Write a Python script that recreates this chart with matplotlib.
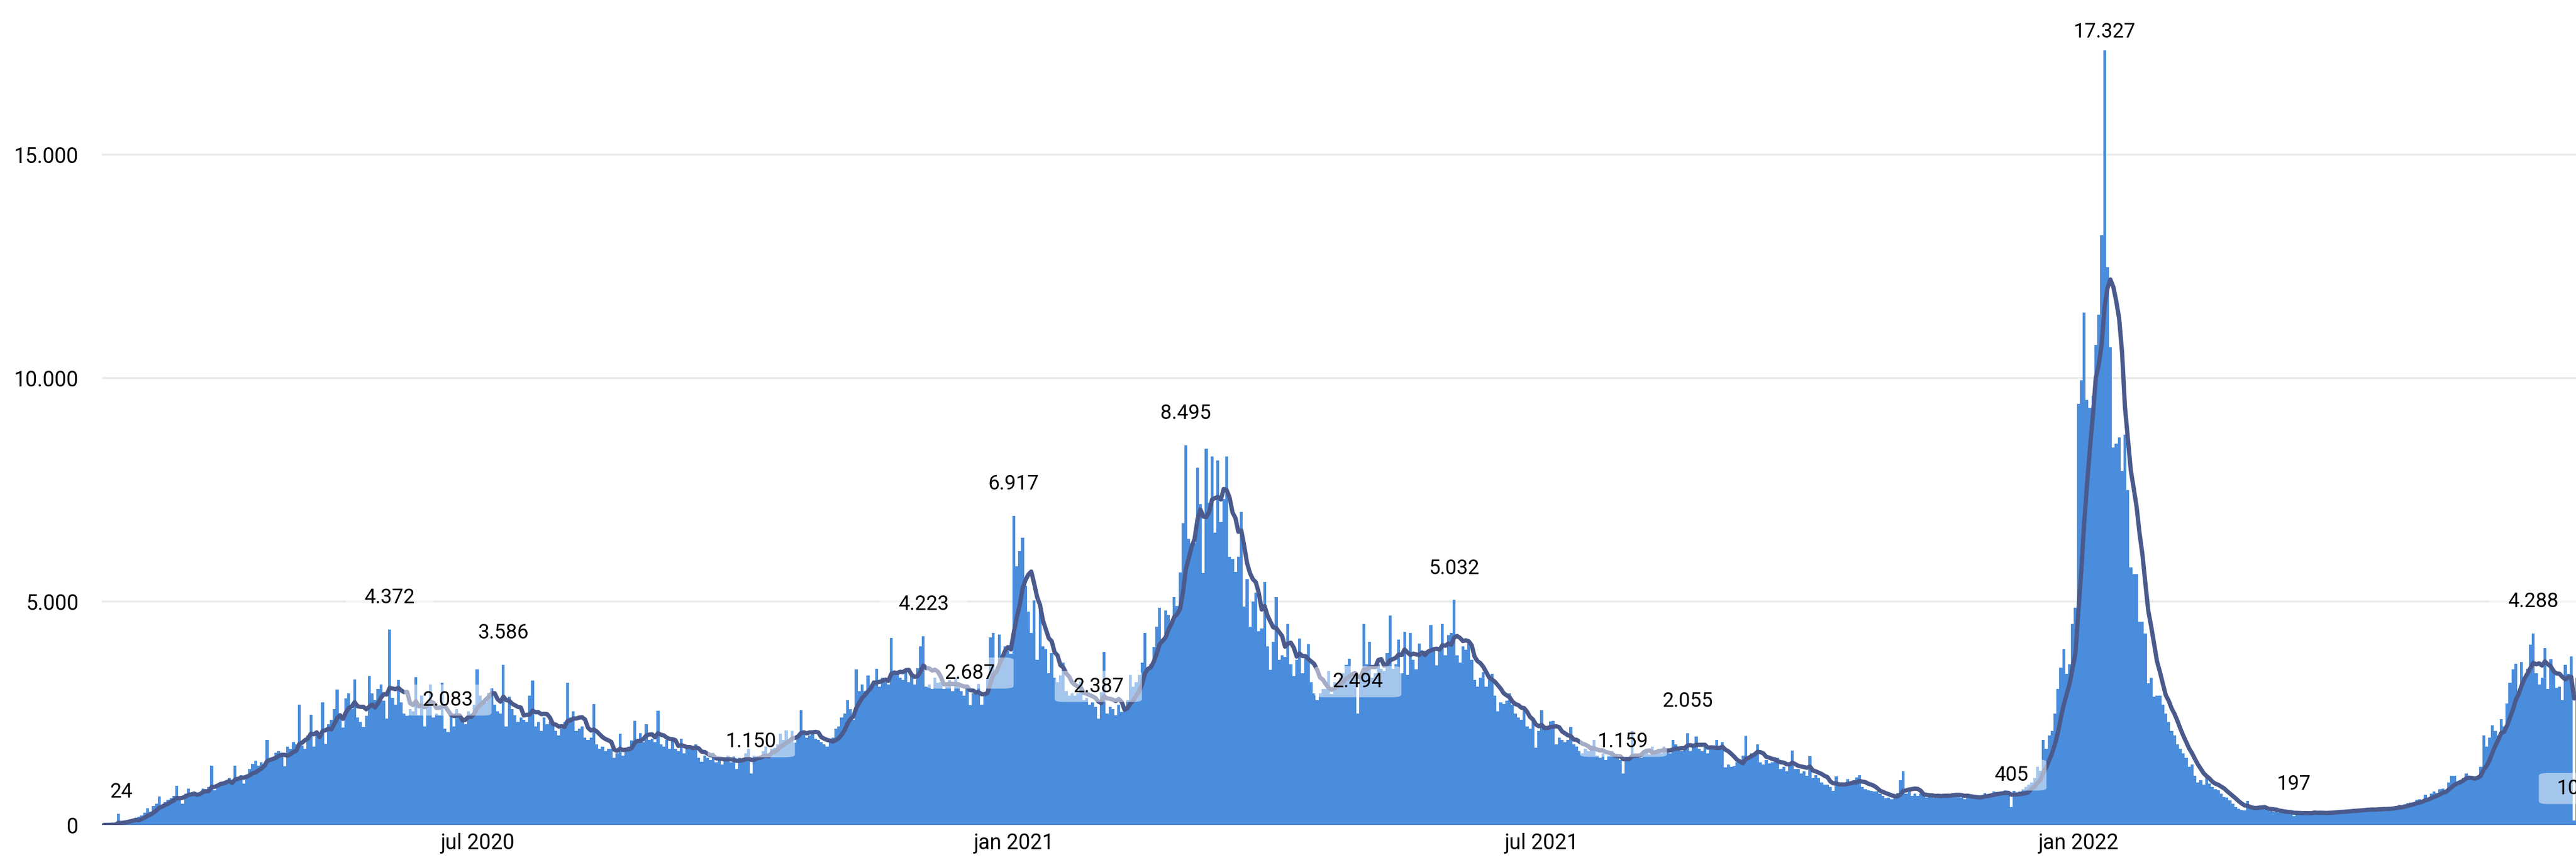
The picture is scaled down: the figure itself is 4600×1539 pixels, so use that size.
import numpy as np
import pandas as pd
import matplotlib
matplotlib.use("Agg")
import matplotlib.pyplot as plt
import matplotlib.dates as mdates
from matplotlib.ticker import FuncFormatter

# ---------------- data (daily values) ----------------
start_date = "2020-02-24"

cases_a = [  # 2020-02-24 .. 2020-09-20
    2, 4, 8, 12, 20, 250, 24,
    60, 90, 110, 130, 150, 190, 210,
    280, 380, 300, 420, 480, 640, 390,
    520, 560, 600, 650, 880, 580, 480,
    700, 820, 690, 750, 720, 680, 820,
    800, 850, 1330, 780, 900, 950, 900,
    980, 1050, 1020, 1330, 1000, 1110, 930,
    1130, 1250, 1360, 1440, 1330, 1400, 1330,
    1900, 1450, 1500, 1620, 1650, 1560, 1310,
    1760, 1700, 1850, 1800, 2700, 1780, 1710,
    2000, 2470, 1760, 2100, 1940, 2750, 1820,
    2250, 2350, 2600, 3030, 2400, 2180, 2830,
    2940, 2600, 3260, 2400, 2300, 2190, 2440,
    3330, 2950, 2800, 3050, 3150, 2780, 2380,
    4372, 2850, 2700, 3250, 2750, 2500, 2440,
    2600, 2550, 3310, 2450, 2900, 2200, 2750,
    3150, 2400, 2500, 2450, 3180, 2157, 2083,
    2500, 2200, 2600, 2450, 2400, 2250, 2540,
    2500, 2700, 3480, 2900, 2800, 2750, 2960,
    3060, 2700, 2550, 2500, 3586, 2200, 2864,
    2600, 2450, 2300, 2400, 2350, 2300, 2890,
    3230, 2200, 2300, 2100, 2400, 2250, 2320,
    2250, 2100, 2000, 2150, 2300, 3180, 2400,
    2550, 2100, 2150, 2200, 1950, 1900, 1955,
    2710, 1800, 1700, 1750, 1650, 1700, 1710,
    1500, 1600, 2040, 1550, 1700, 1760, 1890,
    2330, 1900, 2050, 1850, 2250, 1900, 1930,
    1850, 2560, 1800, 1750, 1900, 1700, 1880,
    1700, 1650, 1930, 1600, 1750, 1700, 1710,
    1810, 1500, 1420, 1550, 1500, 1450, 1620,
]

cases_b = [  # 2020-09-21 .. 2021-04-18
    1400, 1500, 1350, 1460, 1550, 1400, 1546,
    1250, 1500, 1450, 1600, 1700, 1150, 1556,
    1500, 1550, 1650, 1750, 1600, 1700, 1730,
    1800, 2040, 1900, 2120, 1850, 2100, 1840,
    2000, 2570, 2050, 1950, 2000, 2100, 1925,
    1900, 1850, 1800, 1750, 1900, 1950, 2150,
    2200, 2400, 2500, 2800, 2600, 2360, 3480,
    3000, 3150, 3000, 3350, 3100, 3230, 3500,
    3100, 3300, 3200, 3150, 4185, 3450, 3415,
    3300, 3250, 3500, 3200, 3400, 3150, 3510,
    4000, 4223, 3100, 3150, 3050, 3300, 3187,
    3200, 3050, 3100, 3250, 3000, 3300, 3150,
    3000, 2900, 3100, 2687, 2950, 3000, 3153,
    2700, 2900, 3300, 4200, 4300, 3400, 4260,
    3800, 4000, 3900, 3830, 6917, 5790, 6130,
    6430, 5350, 4780, 4300, 5030, 3700, 4880,
    4000, 3940, 3400, 3845, 3300, 3200, 3350,
    3640, 3000, 2900, 2950, 2900, 2950, 3206,
    2800, 2850, 2700, 2750, 2650, 2387, 2973,
    3870, 2500, 2650, 2600, 2450, 2700, 2530,
    2600, 2800, 3360, 3100, 3200, 3360, 3630,
    4300, 3500, 3600, 3990, 4430, 4860, 4160,
    4800, 4700, 4500, 5100, 4900, 5650, 6750,
    8495, 6400, 6300, 6300, 7990, 7180, 5635,
    8420, 7200, 8250, 6540, 8160, 6780, 7290,
    8240, 6000, 5950, 5670, 6000, 7000, 4890,
    5500, 4430, 5000, 5200, 4330, 4400, 5440,
    4000, 3470, 4100, 5100, 3700, 3800, 3760,
    4500, 3600, 3330, 3700, 4170, 3400, 3760,
    4050, 3200, 2950, 2800, 2950, 3050, 3050,
]

cases_c = [  # 2021-04-19 .. 2021-11-14
    3450, 2930, 3200, 3100, 3300, 3400, 3580,
    3720, 3300, 3400, 2494, 3350, 4500, 3596,
    4100, 3300, 3400, 3600, 3500, 3450, 3850,
    4686, 3500, 3600, 4150, 3400, 4320, 3364,
    4300, 3700, 3490, 4060, 3800, 3900, 3910,
    4480, 3900, 3570, 3920, 4500, 3800, 4250,
    4300, 5032, 3800, 3630, 4000, 3920, 4088,
    3700, 3250, 3090, 3300, 3420, 3100, 3240,
    3380, 2900, 2550, 2750, 2710, 2780, 2950,
    2700, 2500, 2400, 2350, 2630, 2210, 2150,
    2300, 1730, 2100, 2565, 2150, 2200, 2320,
    2330, 1810, 1950, 1900, 1850, 1900, 2190,
    1800, 1750, 1650, 1600, 1700, 1650, 1785,
    1900, 1550, 1500, 1600, 1450, 1550, 1650,
    1550, 1500, 1450, 1159, 1500, 1521, 2100,
    1600, 1550, 1500, 1650, 1700, 1580, 1760,
    1650, 1700, 1600, 1750, 1620, 1600, 1910,
    1800, 1700, 1650, 1750, 2055, 1650, 1785,
    1980, 1700, 1650, 1750, 1600, 1700, 1765,
    1900, 1700, 1850, 1290, 1350, 1300, 1320,
    1400, 1450, 1550, 1990, 1500, 1600, 1570,
    1810, 1400, 1350, 1450, 1380, 1400, 1500,
    1500, 1250, 1300, 1200, 1350, 1665, 1255,
    1250, 1150, 1200, 1100, 1540, 1050, 1110,
    1050, 950, 900, 900, 850, 770, 1090,
    900, 950, 880, 1030, 900, 950, 1068,
    1120, 850, 800, 780, 760, 750, 750,
    700, 650, 600, 620, 580, 620, 710,
    1000, 1200, 700, 750, 650, 700, 656,
    700, 650, 620, 680, 640, 600, 695,
]

cases_d = [  # 2021-11-15 .. 2022-06-26
    650, 700, 620, 680, 720, 650, 698,
    620, 580, 650, 600, 640, 590, 646,
    650, 720, 680, 700, 750, 690, 710,
    720, 780, 700, 405, 760, 710, 755,
    800, 850, 900, 950, 1050, 1300, 1220,
    1900, 1700, 2000, 2100, 2500, 3045, 3526,
    3940, 3380, 3600, 4500, 4866, 9420, 9956,
    11466, 9510, 9340, 9600, 10740, 11410, 13200,
    17327, 12477, 10690, 8450, 8530, 8670, 7920,
    8730, 7500, 5760, 5610, 5615, 4550, 4550,
    4280, 3170, 3300, 2865, 2900, 2900, 2700,
    2500, 2300, 2100, 2000, 1800, 1700, 1600,
    1500, 1300, 1350, 1100, 950, 1000, 900,
    1050, 930, 850, 800, 780, 700, 630,
    620, 550, 480, 400, 360, 340, 330,
    540, 380, 350, 360, 420, 380, 370,
    330, 310, 290, 300, 280, 300, 290,
    280, 270, 197, 290, 260, 270, 302,
    260, 280, 290, 250, 270, 260, 280,
    280, 300, 330, 290, 310, 280, 310,
    320, 350, 360, 330, 340, 320, 360,
    350, 370, 340, 380, 350, 360, 370,
    380, 400, 420, 450, 410, 460, 490,
    500, 520, 560, 580, 550, 680, 600,
    700, 750, 720, 800, 820, 790, 950,
    1100, 1107, 950, 1000, 1050, 1150, 1063,
    1050, 1000, 1100, 1300, 2000, 1750, 1950,
    2230, 2100, 2000, 2370, 2200, 2720, 3180,
    3480, 3610, 3000, 3650, 3300, 3500, 4036,
    4288, 3400, 3150, 3300, 3964, 3040, 3708,
    3500, 3075, 3100, 2800, 3590, 3379, 3776,
    104, 3300, 3100, 3000, 2900, 2800, 2700,
]

# annotated local extremes (dates of the labelled days)
peak_dates = ["2020-06-01", "2020-07-10", "2020-12-01", "2021-01-01",
              "2021-03-01", "2021-06-01", "2021-08-20", "2022-01-10",
              "2022-06-06"]
trough_dates = ["2020-03-01", "2020-06-21", "2020-10-03", "2020-12-17",
                "2021-01-30", "2021-04-29", "2021-07-29", "2021-12-09",
                "2022-03-16", "2022-06-20"]

tick_dates = ["2020-07-01", "2021-01-01", "2021-07-01", "2022-01-01"]
tick_labels = ["jul 2020", "jan 2021", "jul 2021", "jan 2022"]
y_ticks = [0, 5000, 10000, 15000]

# ---------------- drawing ----------------
def fmt(v):
    return f"{int(round(v)):,}".replace(",", ".")

values = np.array(cases_a + cases_b + cases_c + cases_d, dtype=float)
dates = pd.date_range(start_date, periods=len(values), freq="D")
x = mdates.date2num(dates)
avg = pd.Series(values).rolling(7, min_periods=1).mean().to_numpy()

plt.rcParams["font.family"] = ["Roboto", "DejaVu Sans"]

W, H = 4600, 1539
fig = plt.figure(figsize=(W / 100, H / 100), dpi=100)
left_px, bottom_px = 182, 66
ax = fig.add_axes([left_px / W, bottom_px / H, 1 - left_px / W, 1 - bottom_px / H])

ax.bar(x, values, width=1.0, color="#4a8ddc", linewidth=0, zorder=2)
ax.plot(x, avg, color="#4b5a8c", lw=5.5, solid_joinstyle="round",
        solid_capstyle="round", zorder=3)

ax.set_xlim(x[0] - 0.65, x[0] + 847.65)
ax.set_ylim(0, 18459)

ax.set_yticks(y_ticks)
ax.yaxis.set_major_formatter(FuncFormatter(lambda v, p: fmt(v)))
ax.set_xticks(mdates.date2num(pd.to_datetime(tick_dates)))
ax.set_xticklabels(tick_labels)
ax.tick_params(axis="y", length=0, pad=30, labelsize=27, labelcolor="#000000")
ax.tick_params(axis="x", length=0, pad=10, labelsize=27, labelcolor="#000000")

ax.yaxis.grid(True, color="#ebebeb", lw=2.8)
ax.xaxis.grid(False)
ax.set_axisbelow(True)
for s in ax.spines.values():
    s.set_visible(False)

start = pd.Timestamp(start_date)
box = dict(boxstyle="round,pad=0.9,rounding_size=0.45", fc="white", ec="none",
           alpha=0.5, mutation_aspect=0.3)
for d in peak_dates + trough_dates:
    i = (pd.Timestamp(d) - start).days
    v = values[i]
    off = 41 if v < 15000 else 24
    ax.annotate(fmt(v), xy=(x[i], v), xytext=(0, off), textcoords="offset points",
                ha="center", va="center", fontsize=26, color="#000000",
                bbox=box, zorder=6, annotation_clip=False)

fig.savefig("out.png", dpi=100, facecolor="white")
